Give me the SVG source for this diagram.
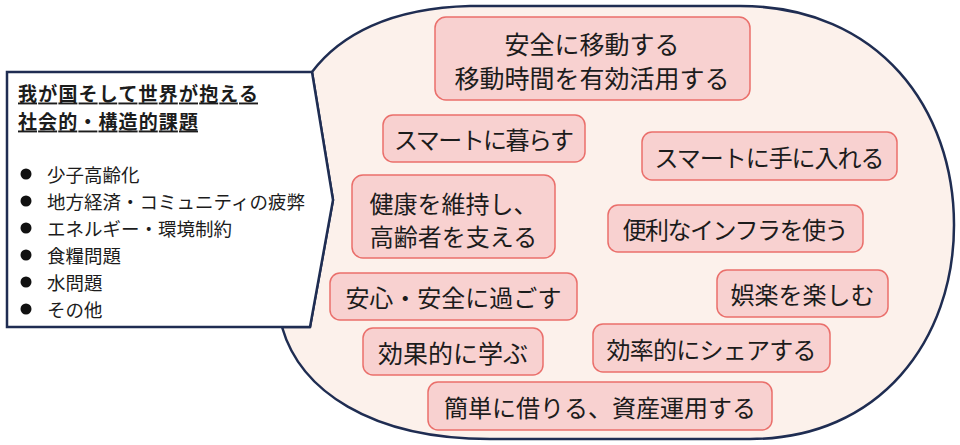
<svg xmlns="http://www.w3.org/2000/svg" width="960" height="445" viewBox="0 0 960 445">
<style>
  text { font-family: "Noto Sans CJK JP", "Noto Sans", sans-serif; fill: #1c1c1c; dominant-baseline: central; }
  .blob { fill: #fcf1eb; stroke: #1f2d52; stroke-width: 2.5; stroke-linejoin: round; }
  .box { fill: #ffffff; stroke: #1f2d52; stroke-width: 2.5; stroke-linejoin: miter; }
  .node rect { fill: #f8d1d0; stroke: #ea6f6b; stroke-width: 1.5; }
  .node text { font-size: 24px; text-anchor: middle; }
  .hd { font-size: 19px; font-weight: bold; text-decoration: underline; }
  .bl { font-size: 18.5px; }
  .dot { fill: #111; }
</style>
<g id="cluster">
  <path class="blob" d="M 312 72 C 340 35, 390 8, 470 6 L 740 6 C 880 6, 954 110, 954 225 C 954 340, 880 439, 750 439 L 490 439 C 370 439, 300 390, 282 327 L 310 327 L 333 200 Z"/>
</g>
<g id="issues">
  <path class="box" d="M 7 72 L 312 72 L 333 200 L 310 327 L 7 327 Z"/>
  <text class="hd" x="18" y="92" textLength="240">我が国そして世界が抱える</text>
  <text class="hd" x="18" y="120" textLength="180">社会的・構造的課題</text>
  <circle class="dot" cx="26" cy="174" r="5.5"/>
  <text class="bl" x="47" y="174">少子高齢化</text>
  <circle class="dot" cx="26" cy="201" r="5.5"/>
  <text class="bl" x="47" y="201">地方経済・コミュニティの疲弊</text>
  <circle class="dot" cx="26" cy="228" r="5.5"/>
  <text class="bl" x="47" y="228">エネルギー・環境制約</text>
  <circle class="dot" cx="26" cy="255" r="5.5"/>
  <text class="bl" x="47" y="255">食糧問題</text>
  <circle class="dot" cx="26" cy="282" r="5.5"/>
  <text class="bl" x="47" y="282">水問題</text>
  <circle class="dot" cx="26" cy="309" r="5.5"/>
  <text class="bl" x="47" y="309">その他</text>
</g>
<g id="connectors"></g>
<g id="n1" class="node">
  <rect x="435" y="17" width="315" height="83" rx="11"/>
  <text x="592" y="43" style="font-size:25px">安全に移動する</text>
  <text x="592" y="77" style="font-size:25px">移動時間を有効活用する</text>
</g>
<g id="n2" class="node">
  <rect x="383" y="115" width="202" height="47" rx="10"/>
  <text x="484" y="138.5" textLength="180">スマートに暮らす</text>
</g>
<g id="n3" class="node">
  <rect x="642" y="132" width="255" height="48" rx="10"/>
  <text x="769.5" y="156" textLength="230">スマートに手に入れる</text>
</g>
<g id="n4" class="node">
  <rect x="352" y="175" width="203" height="83" rx="11"/>
  <text x="453.5" y="202">健康を維持し、</text>
  <text x="453.5" y="235">高齢者を支える</text>
</g>
<g id="n5" class="node">
  <rect x="608" y="205" width="255" height="47" rx="10"/>
  <text x="735.5" y="228.5" textLength="226">便利なインフラを使う</text>
</g>
<g id="n6" class="node">
  <rect x="330" y="273" width="247" height="47" rx="10"/>
  <text x="453.5" y="296.5">安心・安全に過ごす</text>
</g>
<g id="n7" class="node">
  <rect x="717" y="270" width="171" height="47" rx="10"/>
  <text x="802.5" y="293.5">娯楽を楽しむ</text>
</g>
<g id="n8" class="node">
  <rect x="363" y="328" width="180" height="47" rx="10"/>
  <text x="453" y="351.5" style="font-size:25px">効果的に学ぶ</text>
</g>
<g id="n9" class="node">
  <rect x="593" y="324" width="237" height="48" rx="10"/>
  <text x="711.5" y="348" textLength="210">効率的にシェアする</text>
</g>
<g id="n10" class="node">
  <rect x="428" y="382" width="344" height="48" rx="10"/>
  <text x="600" y="406">簡単に借りる、資産運用する</text>
</g>
</svg>
